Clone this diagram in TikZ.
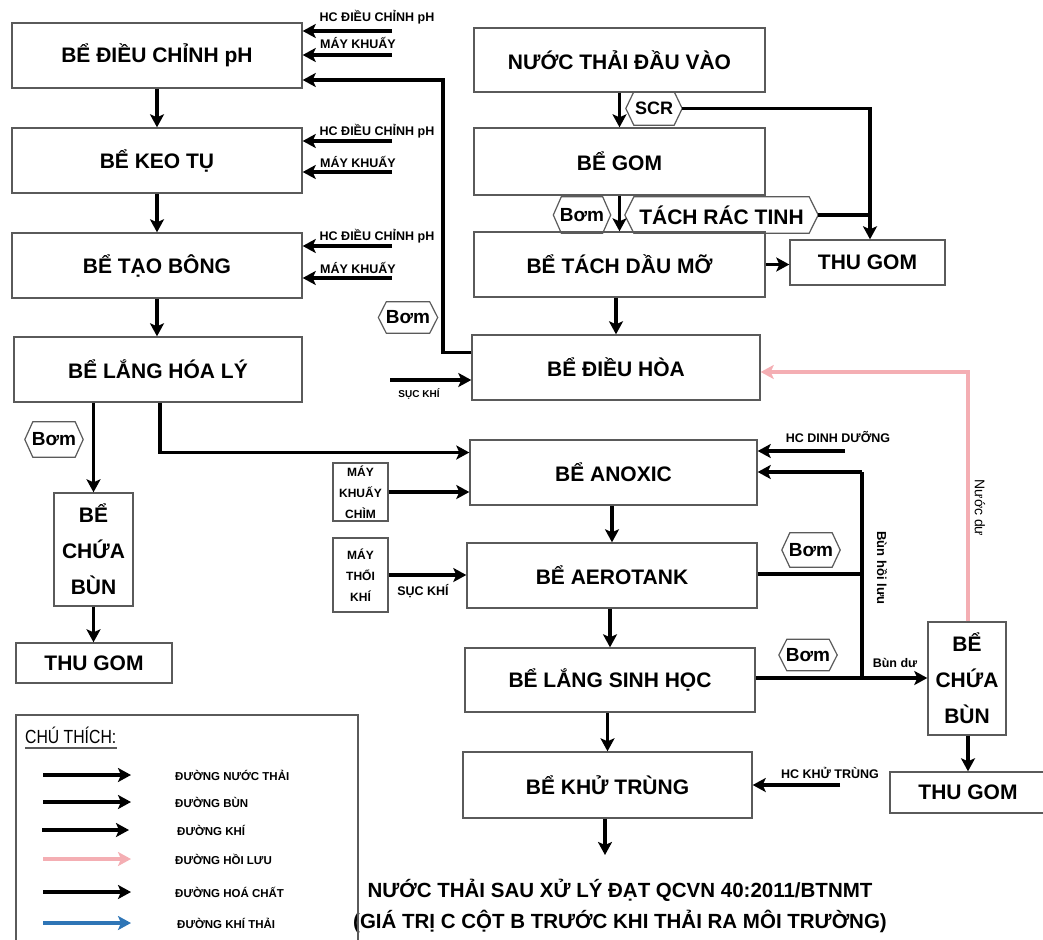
\documentclass[tikz,border=0pt]{standalone}
\usepackage{fontspec}
\setmainfont{Liberation Sans}
\usetikzlibrary{arrows.meta,calc}
\definecolor{boxgray}{HTML}{5A5A5A}
\definecolor{pinkline}{HTML}{F4AEB3}
\definecolor{blueline}{HTML}{2E75B6}
\tikzset{
  tank/.style={draw=boxgray, line width=1.4pt, fill=white, inner sep=0pt, align=center,
    font=\bfseries\fontsize{21}{36}\selectfont},
  flow/.style={line width=3.4pt, -{Stealth[length=13pt,width=14pt,inset=3pt]}},
  pipe/.style={line width=3.4pt},
  pinkflow/.style={flow, draw=pinkline},
  blueflow/.style={flow, draw=blueline},
  hexlbl/.style={inner sep=0pt, font=\bfseries\fontsize{19}{22}\selectfont},
  hexline/.style={draw=boxgray, line width=1.2pt},
  side/.style={inner sep=0pt, font=\bfseries\fontsize{12.5}{14}\selectfont},
  smallside/.style={inner sep=0pt, font=\bfseries\fontsize{10}{12}\selectfont},
  machine/.style={draw=boxgray, line width=1.4pt, fill=white, inner sep=0pt, align=center,
    font=\bfseries\fontsize{12}{21}\selectfont},
  legtxt/.style={inner sep=0pt, anchor=west, font=\bfseries\fontsize{11.5}{13}\selectfont},
}
\newcommand\hexbox[2]{\draw[hexline] (#1.west) -- ([xshift=#2pt]#1.north west) -- ([xshift=-#2pt]#1.north east) -- (#1.east) -- ([xshift=-#2pt]#1.south east) -- ([xshift=#2pt]#1.south west) -- cycle;}
\begin{document}
\begin{tikzpicture}[x=1pt,y=-1pt]
\useasboundingbox (0,0) rectangle (1043,939);
% ---------- left column
\node[tank, minimum width=290pt, minimum height=65pt] (ph) at (157,55.5) {BỂ ĐIỀU CHỈNH pH};
\node[tank, minimum width=290pt, minimum height=65pt] (keo) at (157,160.5) {BỂ KEO TỤ};
\node[tank, minimum width=290pt, minimum height=65pt] (tao) at (157,265.5) {BỂ TẠO BÔNG};
\node[tank, minimum width=288pt, minimum height=65pt] (lhl) at (158,369.5) {BỂ LẮNG HÓA LÝ};
\node[tank, minimum width=79pt, minimum height=113pt] (cb1) at (93.5,549.5) {BỂ\\CHỨA\\BÙN};
\node[tank, minimum width=156pt, minimum height=40pt] (tg1) at (94,663) {THU GOM};
% ---------- right column
\node[tank, minimum width=291pt, minimum height=64pt] (vao) at (619.5,60) {NƯỚC THẢI ĐẦU VÀO};
\node[tank, minimum width=291pt, minimum height=67pt] (gom) at (619.5,161.5) {BỂ GOM};
\node[tank, minimum width=291pt, minimum height=65pt] (tach) at (619.5,264.5) {BỂ TÁCH DẦU MỠ};
\node[tank, minimum width=155pt, minimum height=45pt] (tg2) at (867.5,262.5) {THU GOM};
\node[tank, minimum width=288pt, minimum height=65pt] (dh) at (616,367.5) {BỂ ĐIỀU HÒA};
\node[tank, minimum width=287pt, minimum height=65pt] (anox) at (613.5,472.5) {BỂ ANOXIC};
\node[tank, minimum width=290pt, minimum height=65pt] (aero) at (612,575.5) {BỂ AEROTANK};
\node[tank, minimum width=290pt, minimum height=64pt] (lsh) at (610,680) {BỂ LẮNG SINH HỌC};
\node[tank, minimum width=289pt, minimum height=66pt] (kt) at (607.5,785) {BỂ KHỬ TRÙNG};
\node[tank, minimum width=78pt, minimum height=113pt] (cb2) at (967,678.5) {BỂ\\CHỨA\\BÙN};
\node[tank, minimum width=156pt, minimum height=41pt] (tg3) at (968,792.5) {THU GOM};
\node[machine, minimum width=55pt, minimum height=58pt] (mkc) at (360.5,492) {MÁY\\KHUẤY\\CHÌM};
\node[machine, minimum width=55pt, minimum height=74pt] (mtk) at (360.5,575) {MÁY\\THỔI\\KHÍ};
% ---------- hexagons
\node[hexlbl, minimum width=58pt, minimum height=35pt] (bom1) at (54,439.5) {Bơm}; \hexbox{bom1}{8}
\node[hexlbl, minimum width=59pt, minimum height=31pt] (bom2) at (408,317.5) {Bơm}; \hexbox{bom2}{8}
\node[hexlbl, minimum width=56pt, minimum height=33pt, font=\bfseries\fontsize{18}{20}\selectfont] (scr) at (654,108.5) {SCR}; \hexbox{scr}{8}
\node[hexlbl, minimum width=57pt, minimum height=36pt] (bom3) at (582,215) {Bơm}; \hexbox{bom3}{8}
\node[hexlbl, minimum width=193pt, minimum height=36pt, font=\bfseries\fontsize{21}{24}\selectfont] (trt) at (721.5,215) {TÁCH RÁC TINH}; \hexbox{trt}{9}
\node[hexlbl, minimum width=58pt, minimum height=34pt] (bom4) at (811,550) {Bơm}; \hexbox{bom4}{8}
\node[hexlbl, minimum width=58pt, minimum height=31pt] (bom5) at (808,655) {Bơm}; \hexbox{bom5}{8}
% ---------- left column connectors
\draw[flow] (ph) -- (keo);
\draw[flow] (keo) -- (tao);
\draw[flow] (tao.south) -- (tao.south |- lhl.north);
\draw[flow] (lhl.south -| cb1.north) -- (cb1.north);
\draw[flow] (cb1.south) -- (cb1.south |- tg1.north);
\draw[flow] ([xshift=2pt]lhl.south) |- ([yshift=20pt]anox.west);
% chemicals / mixers on the left
\coordinate (c1) at (392,31);  \draw[flow] (c1) -- (c1 -| ph.east);
\coordinate (c2) at (392,55);  \draw[flow] (c2) -- (c2 -| ph.east);
\coordinate (c3) at (392,141); \draw[flow] (c3) -- (c3 -| keo.east);
\coordinate (c4) at (392,172); \draw[flow] (c4) -- (c4 -| keo.east);
\coordinate (c5) at (392,246); \draw[flow] (c5) -- (c5 -| tao.east);
\coordinate (c6) at (392,278); \draw[flow] (c6) -- (c6 -| tao.east);
\node[side] (l1) at (377,17)  {HC ĐIỀU CHỈNH pH};
\node[side] (l2) at (358,43)  {MÁY KHUẤY};
\node[side] (l3) at (377,131) {HC ĐIỀU CHỈNH pH};
\node[side] (l4) at (358,162) {MÁY KHUẤY};
\node[side] (l5) at (377,236) {HC ĐIỀU CHỈNH pH};
\node[side] (l6) at (358,268) {MÁY KHUẤY};
% return from equalisation tank
\coordinate (ret) at (443,80);
\draw[flow] ([yshift=15pt]dh.west) -| (ret) -- (ret -| ph.east);
\coordinate (sk1) at (390,380);
\draw[flow] (sk1) -- (sk1 -| dh.west);
\node[smallside] (sk1l) at (419,394) {SỤC KHÍ};
% ---------- right column connectors
\draw[flow] (vao) -- (gom);
\coordinate (jx) at ([xshift=2.5pt]tg2.north);
\draw[flow] (scr.east) -| (jx);
\draw[flow] (gom) -- (tach);
\draw[pipe] (trt.east) -- (jx |- trt.east);
\draw[flow] (tach.east) -- (tach.east -| tg2.west);
\draw[flow] (tach.south -| dh) -- (dh.north);
\draw[flow] (anox.south -| aero) -- (aero.north);
\draw[flow] (aero.south -| lsh) -- (lsh.north);
\draw[flow] (lsh.south -| kt) -- (kt.north);
\coordinate (out) at (605,855);
\draw[flow] (kt.south -| out) -- (out);
% nutrients
\coordinate (dd) at (845,451);
\draw[flow] (dd) -- (dd -| anox.east);
\node[side] (ddl) at (838,437) {HC DINH DƯỠNG};
% sludge return
\coordinate (rt) at (862,678);
\coordinate (rh) at (862,472);
\coordinate (ra) at (862,574);
\draw[pipe] (rt) -- (rh);
\draw[flow] (rh) -- (rh -| anox.east);
\draw[pipe] (ra -| aero.east) -- (ra);
\draw[flow] (rt -| lsh.east) -- (rt -| cb2.west);
\node[inner sep=0pt, rotate=-90, font=\bfseries\fontsize{13}{15}\selectfont] (bhl) at (882,568) {Bùn hồi lưu};
\node[inner sep=0pt, font=\bfseries\fontsize{12.5}{15}\selectfont] (bdu) at (895,663) {Bùn dư};
% excess water (pink)
\coordinate (pk) at (968,372);
\draw[pinkflow] (cb2.north -| pk) -- (pk) -- (pk -| dh.east);
\node[inner sep=0pt, rotate=-90, font=\fontsize{14}{16}\selectfont] (ndu) at (980,508) {Nước dư};
\draw[flow] (cb2.south -| tg3) -- (tg3.north);
% disinfection chemical
\coordinate (hk) at (840,785);
\draw[flow] (hk) -- (hk -| kt.east);
\node[side] (hkl) at (830,773) {HC KHỬ TRÙNG};
% machines
\draw[flow] (mkc.east) -- (mkc.east -| anox.west);
\draw[flow] (mtk.east) -- (mtk.east -| aero.west);
\node[side] (sk2l) at (423,591) {SỤC KHÍ};
% ---------- output text
\node[inner sep=0pt, align=center, font=\bfseries\fontsize{20.5}{31}\selectfont] (outtxt) at (620,906)
  {NƯỚC THẢI SAU XỬ LÝ ĐẠT QCVN 40:2011/BTNMT\\(GIÁ TRỊ C CỘT B TRƯỚC KHI THẢI RA MÔI TRƯỜNG)};
% ---------- legend
\draw[draw=boxgray, line width=1.4pt] (16,945) -- (16,715) -- (358,715) -- (358,945);
\node[inner sep=0pt, anchor=base west, font=\fontsize{19}{20}\selectfont] (lg) at (25,743) {\scalebox{0.83}[1]{CHÚ THÍCH:}};
\draw[boxgray, line width=1.6pt] ([yshift=-5pt]lg.base west) -- ([yshift=-5pt]lg.base east);
\coordinate (a1s) at (43,775); \coordinate (a1e) at (131,775);
\coordinate (a2s) at (43,802); \coordinate (a2e) at (131,802);
\coordinate (a3s) at (42,830); \coordinate (a3e) at (129,830);
\coordinate (a4s) at (43,859); \coordinate (a4e) at (131,859);
\coordinate (a5s) at (43,892); \coordinate (a5e) at (131,892);
\coordinate (a6s) at (43,923); \coordinate (a6e) at (131,923);
\draw[flow] (a1s) -- (a1e);
\draw[flow] (a2s) -- (a2e);
\draw[flow] (a3s) -- (a3e);
\draw[pinkflow] (a4s) -- (a4e);
\draw[flow] (a5s) -- (a5e);
\draw[blueflow] (a6s) -- (a6e);
\node[legtxt] (t1) at (175,775) {ĐƯỜNG NƯỚC THẢI};
\node[legtxt] (t2) at (175,802) {ĐƯỜNG BÙN};
\node[legtxt] (t3) at (177,830) {ĐƯỜNG KHÍ};
\node[legtxt] (t4) at (175,859) {ĐƯỜNG HỒI LƯU};
\node[legtxt] (t5) at (175,892) {ĐƯỜNG HOÁ CHẤT};
\node[legtxt] (t6) at (177,923) {ĐƯỜNG KHÍ THẢI};
\end{tikzpicture}
\end{document}
